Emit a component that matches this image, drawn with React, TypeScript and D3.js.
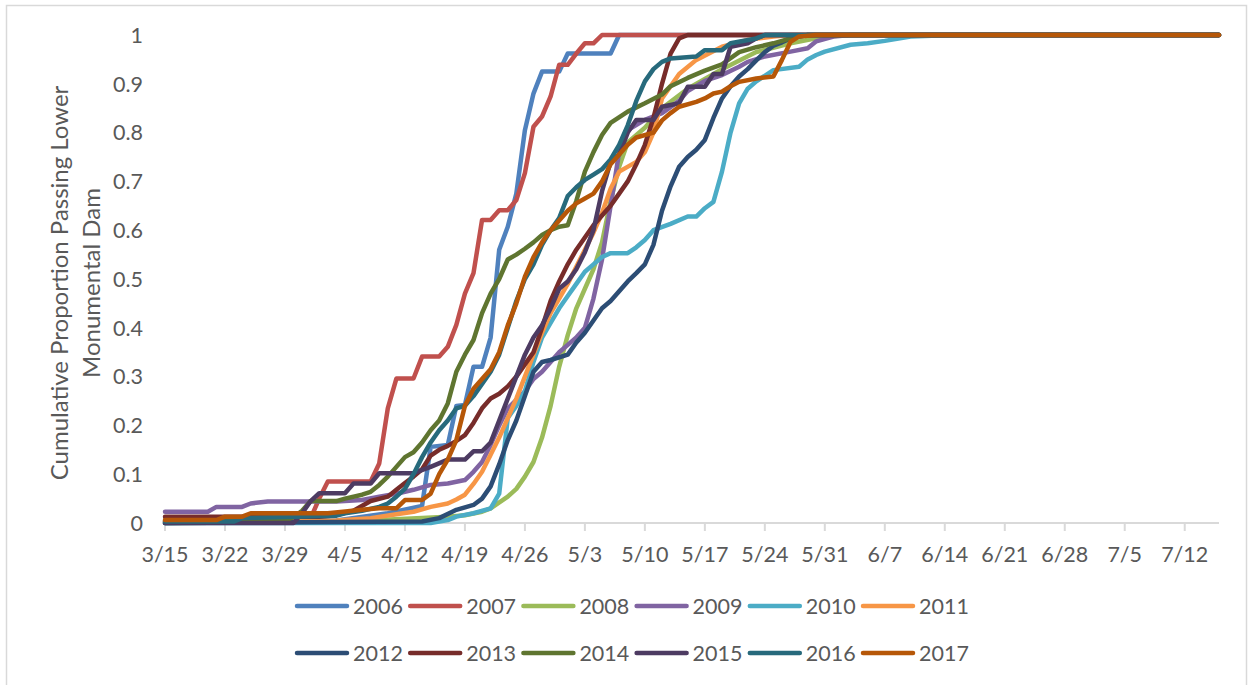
import React from "react";
import * as d3 from "d3";

// day offsets from 3/15, cumulative proportion
const startDate = new Date(Date.UTC(2001, 2, 15));
const lastDay = 123;
const tickDays = [0, 7, 14, 21, 28, 35, 42, 49, 56, 63, 70, 77, 84, 91, 98, 105, 112, 119];
const yTicks = [0, 0.1, 0.2, 0.3, 0.4, 0.5, 0.6, 0.7, 0.8, 0.9, 1];

const years = ["2006", "2007", "2008", "2009", "2010", "2011", "2012", "2013", "2014", "2015", "2016", "2017"];
const colors = ["#4F81BD", "#C0504D", "#9BBB59", "#8064A2", "#4BACC6", "#F79646", "#2C4D75", "#772C2A", "#5F7530", "#4D3B62", "#276A7C", "#B65708"];

const s2006 = [[0,0],[20,0.005],[26,0.02],[30,0.035],[31,0.156],[33,0.16],[34,0.24],[35,0.242],[36,0.32],[37,0.32],[38,0.38],[39,0.56],[40,0.607],[41,0.675],[42,0.805],[43,0.88],[44,0.925],[46,0.925],[47,0.962],[52,0.962],[53,1],[123,1]];
const s2007 = [[0,0.003],[16,0.005],[17,0.01],[18,0.05],[19,0.085],[24,0.085],[25,0.122],[26,0.235],[27,0.296],[29,0.296],[30,0.341],[32,0.341],[33,0.361],[34,0.406],[35,0.47],[36,0.512],[37,0.621],[38,0.621],[39,0.641],[40,0.641],[41,0.662],[42,0.717],[43,0.812],[44,0.833],[45,0.874],[46,0.939],[47,0.939],[48,0.962],[49,0.983],[50,0.983],[51,1],[123,1]];
const s2008 = [[0,0],[20,0.002],[30,0.01],[33,0.013],[35,0.016],[37,0.023],[38,0.03],[40,0.054],[41,0.07],[42,0.095],[43,0.125],[44,0.175],[45,0.24],[46,0.32],[47,0.385],[48,0.44],[49,0.48],[50,0.52],[51,0.575],[52,0.66],[53,0.73],[54,0.78],[56,0.81],[58,0.85],[61,0.89],[65,0.93],[69,0.965],[73,0.983],[77,0.997],[80,1],[123,1]];
const s2009 = [[0,0.023],[5,0.023],[6,0.033],[9,0.033],[10,0.04],[12,0.044],[20,0.044],[23,0.047],[25,0.054],[27,0.06],[29,0.068],[31,0.078],[33,0.081],[35,0.088],[36,0.105],[37,0.125],[38,0.16],[39,0.2],[40,0.235],[42,0.27],[43,0.295],[44,0.31],[45,0.33],[46,0.35],[47,0.365],[48,0.38],[49,0.4],[50,0.46],[51,0.54],[52,0.65],[53,0.76],[54,0.805],[56,0.826],[58,0.84],[60,0.865],[61,0.885],[63,0.906],[65,0.918],[67,0.935],[68,0.945],[70,0.956],[73,0.966],[75,0.973],[76,0.987],[78,0.997],[80,1],[123,1]];
const s2010 = [[0,0],[31,0],[33,0.006],[34,0.013],[36,0.02],[38,0.03],[39,0.06],[40,0.215],[41,0.24],[42,0.27],[43,0.33],[44,0.38],[45,0.41],[46,0.44],[47,0.465],[48,0.49],[49,0.515],[50,0.53],[51,0.545],[52,0.553],[54,0.553],[55,0.565],[56,0.58],[57,0.6],[59,0.613],[61,0.628],[62,0.628],[63,0.645],[64,0.658],[65,0.72],[66,0.8],[67,0.86],[68,0.89],[69,0.905],[71,0.928],[74,0.935],[75,0.95],[76,0.959],[77,0.966],[80,0.98],[82,0.983],[84,0.988],[87,0.997],[92,1],[123,1]];
const s2011 = [[0,0.002],[20,0.005],[24,0.01],[27,0.018],[29,0.023],[31,0.033],[33,0.04],[34,0.048],[35,0.058],[36,0.08],[37,0.105],[38,0.14],[39,0.175],[40,0.215],[41,0.255],[42,0.3],[43,0.345],[44,0.39],[45,0.43],[46,0.46],[47,0.49],[48,0.525],[49,0.56],[50,0.595],[51,0.635],[52,0.685],[53,0.72],[55,0.74],[56,0.76],[57,0.8],[58,0.87],[60,0.92],[62,0.949],[65,0.976],[68,0.99],[71,0.997],[73,1],[123,1]];
const s2012 = [[0,0],[30,0.003],[32,0.01],[34,0.027],[36,0.037],[37,0.05],[38,0.075],[39,0.12],[40,0.17],[41,0.21],[42,0.26],[43,0.31],[44,0.33],[45,0.334],[47,0.345],[48,0.37],[49,0.39],[50,0.415],[51,0.44],[52,0.455],[53,0.475],[54,0.495],[55,0.512],[56,0.53],[57,0.57],[58,0.64],[59,0.69],[60,0.73],[61,0.75],[62,0.765],[63,0.785],[64,0.83],[65,0.87],[66,0.895],[67,0.915],[68,0.93],[69,0.948],[70,0.965],[71,0.978],[72,0.985],[73,0.993],[75,1],[123,1]];
const s2013 = [[0,0.013],[18,0.013],[20,0.016],[22,0.025],[24,0.045],[26,0.054],[27,0.068],[28,0.082],[29,0.095],[30,0.11],[31,0.138],[32,0.15],[33,0.158],[34,0.168],[35,0.18],[36,0.205],[37,0.235],[38,0.255],[39,0.265],[40,0.28],[41,0.3],[42,0.325],[43,0.35],[44,0.4],[45,0.455],[46,0.495],[47,0.53],[48,0.56],[49,0.585],[50,0.61],[51,0.63],[52,0.65],[53,0.675],[54,0.7],[55,0.735],[56,0.775],[57,0.83],[58,0.9],[59,0.962],[60,0.993],[61,1],[123,1]];
const s2014 = [[0,0.005],[14,0.005],[15,0.012],[16,0.025],[17,0.045],[20,0.045],[21,0.05],[23,0.058],[24,0.064],[25,0.078],[26,0.095],[27,0.115],[28,0.135],[29,0.145],[30,0.165],[31,0.19],[32,0.21],[33,0.245],[34,0.31],[35,0.345],[36,0.375],[37,0.43],[38,0.47],[39,0.5],[40,0.54],[41,0.55],[42,0.562],[43,0.575],[44,0.59],[45,0.6],[46,0.607],[47,0.61],[48,0.66],[49,0.72],[50,0.76],[51,0.795],[52,0.82],[54,0.843],[56,0.86],[58,0.878],[59,0.895],[61,0.912],[63,0.927],[65,0.94],[67,0.965],[69,0.975],[71,0.983],[73,0.993],[75,1],[123,1]];
const s2015 = [[0,0],[15,0],[16,0.02],[17,0.045],[18,0.061],[21,0.061],[22,0.081],[24,0.081],[25,0.102],[29,0.102],[31,0.115],[33,0.13],[35,0.13],[36,0.147],[37,0.147],[38,0.165],[39,0.21],[40,0.255],[41,0.3],[42,0.345],[43,0.38],[44,0.405],[45,0.44],[46,0.48],[47,0.495],[48,0.52],[49,0.555],[50,0.6],[51,0.68],[52,0.74],[53,0.755],[54,0.8],[55,0.826],[57,0.826],[58,0.853],[60,0.86],[61,0.894],[63,0.894],[64,0.92],[65,0.92],[66,0.976],[68,0.983],[69,0.993],[70,1],[123,1]];
const s2016 = [[0,0.003],[8,0.003],[9,0.01],[20,0.015],[21,0.02],[23,0.025],[25,0.033],[26,0.04],[27,0.054],[28,0.07],[29,0.1],[30,0.135],[31,0.165],[32,0.19],[33,0.21],[34,0.235],[35,0.24],[36,0.26],[37,0.285],[38,0.31],[39,0.345],[40,0.4],[41,0.455],[42,0.5],[43,0.53],[44,0.57],[45,0.6],[46,0.625],[47,0.67],[48,0.688],[49,0.703],[50,0.714],[51,0.725],[52,0.745],[53,0.775],[54,0.815],[55,0.865],[56,0.905],[57,0.93],[58,0.945],[59,0.952],[62,0.956],[63,0.969],[65,0.969],[66,0.983],[69,0.993],[70,1],[123,1]];
const s2017 = [[0,0.006],[6,0.006],[7,0.013],[9,0.013],[10,0.02],[19,0.02],[23,0.027],[25,0.03],[27,0.03],[28,0.047],[30,0.047],[31,0.06],[32,0.1],[33,0.13],[34,0.17],[35,0.24],[36,0.275],[37,0.295],[38,0.315],[39,0.35],[40,0.405],[41,0.45],[42,0.505],[43,0.545],[44,0.575],[45,0.6],[46,0.62],[47,0.64],[48,0.655],[49,0.665],[50,0.675],[51,0.7],[52,0.735],[53,0.755],[54,0.775],[55,0.79],[57,0.8],[58,0.825],[59,0.84],[60,0.853],[62,0.863],[63,0.87],[64,0.88],[65,0.884],[66,0.895],[67,0.904],[69,0.911],[71,0.915],[72,0.949],[73,0.986],[74,0.997],[76,1],[123,1]];

const seriesValues = [s2006, s2007, s2008, s2009, s2010, s2011, s2012, s2013, s2014, s2015, s2016, s2017];

const W = 1249;
const H = 685;
const FONT = "Lato, 'Open Sans', sans-serif";
const TXT = "#595959";

const dayToDate = (d: number) => new Date(startDate.getTime() + d * 86400000);

export default function App() {
  const x = d3.scaleUtc().domain([dayToDate(0), dayToDate(lastDay)]).range([165, 1219]);
  const y = d3.scaleLinear().domain([0, 1]).range([523, 35]);
  const fmt = d3.utcFormat("%-m/%-d");
  const line = d3
    .line<number[]>()
    .x((p) => x(dayToDate(p[0])))
    .y((p) => y(p[1]))
    .curve(d3.curveLinear);

  const legendX0 = 297;
  const legendStep = 113.2;
  const legendRows = [606, 653];

  return (
    <svg width={W} height={H} style={{ position: "absolute", left: 0, top: 0, display: "block" }} fontFamily={FONT}>
      <rect x={0} y={0} width={W} height={H} fill="#fff" />
      <rect x={6.5} y={5.5} width={1240} height={720} fill="none" stroke="#d9d9d9" strokeWidth={1.5} />

      {/* x axis */}
      <line x1={165} x2={1219} y1={523} y2={523} stroke="#d9d9d9" strokeWidth={2} />
      {tickDays.map((d) => (
        <g key={d}>
          <line x1={x(dayToDate(d))} x2={x(dayToDate(d))} y1={523} y2={531} stroke="#d9d9d9" strokeWidth={2} />
          <text x={x(dayToDate(d))} y={562} textAnchor="middle" fontSize={21.5} fill={TXT}>
            {fmt(dayToDate(d))}
          </text>
        </g>
      ))}

      {/* y ticks */}
      {yTicks.map((t) => (
        <text key={t} x={143} y={y(t)} dy="0.36em" textAnchor="end" fontSize={21.5} fill={TXT}>
          {d3.format("~g")(t)}
        </text>
      ))}

      {/* y title */}
      <g transform={`translate(0, 283) rotate(-90)`}>
        <text x={0} y={59} dy="0.36em" textAnchor="middle" fontSize={24} fill={TXT}>
          Cumulative Proportion Passing Lower
        </text>
        <text x={0} y={91} dy="0.36em" textAnchor="middle" fontSize={24} fill={TXT}>
          Monumental Dam
        </text>
      </g>

      {/* series */}
      {seriesValues.map((s, i) => (
        <path
          key={years[i]}
          d={line(s) || ""}
          fill="none"
          stroke={colors[i]}
          strokeWidth={4.5}
          strokeLinejoin="round"
          strokeLinecap="round"
        />
      ))}

      {/* legend */}
      {years.map((yr, i) => {
        const lx = legendX0 + legendStep * (i % 6);
        const ly = legendRows[Math.floor(i / 6)];
        return (
          <g key={yr}>
            <line x1={lx} x2={lx + 50} y1={ly} y2={ly} stroke={colors[i]} strokeWidth={4.5} strokeLinecap="round" />
            <text x={lx + 56} y={ly} dy="0.36em" fontSize={21.5} fill={TXT}>
              {yr}
            </text>
          </g>
        );
      })}
    </svg>
  );
}
